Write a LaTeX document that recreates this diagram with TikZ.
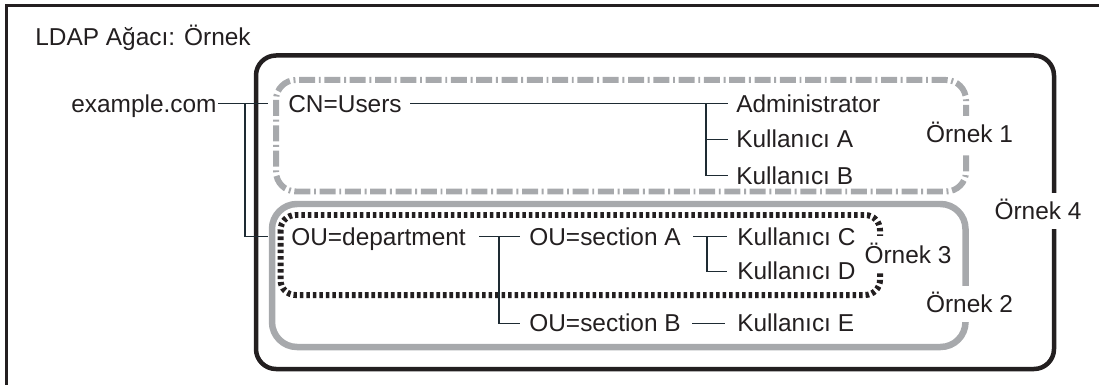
\documentclass[tikz,border=0pt]{standalone}
\usepackage{fontspec}
\setmainfont{Liberation Sans}
\usepackage{xcolor}
\usepackage{tikz}
\usetikzlibrary{positioning,calc}
\definecolor{inkblack}{HTML}{231F20}
\definecolor{boxgray}{HTML}{A7A9AC}
\definecolor{wirenavy}{HTML}{1E2B33}

\begin{document}
\begin{tikzpicture}[
  x=0.02cm, y=-0.02cm,
  every node/.style={font=\fontsize{13.9}{16}\selectfont, text=inkblack},
  txt/.style={inner sep=0pt, text height=0.35cm, text depth=0pt, anchor=west},
  tag/.style={fill=white, inner xsep=1.5pt, inner ysep=0.19cm, text height=0.35cm, text depth=0pt},
  wire/.style={draw=wirenavy, line width=0.7pt},
  grpA/.style={draw=boxgray, line width=0.12cm, rounded corners=0.4cm, dash pattern=on 9.1pt off 2.1pt on 1.1pt off 2.1pt},
  grpB/.style={draw=boxgray, line width=0.13cm, rounded corners=0.5cm},
  grpC/.style={draw=inkblack, line width=0.12cm, rounded corners=0.3cm, dash pattern=on 2pt off 1.7pt},
  grpD/.style={draw=inkblack, line width=0.09cm, rounded corners=0.4cm}
]
\useasboundingbox (0,0) rectangle (1099,385);
\draw[inkblack, line width=0.06cm] (6.5,385) |- (1099,5.5);

% group boxes
\draw[grpD] (256,55.5) rectangle (1054,369);
\draw[grpA] (276,80) rectangle (966,191.5);
\draw[grpB] (272,204) rectangle (965.5,347);
\draw[grpC] (280.5,215) rectangle (880,295);

\node[txt] (title) at (35,36.5) {LDAP Ağacı: Örnek};

% entries
\node[txt] (ex) at (71,103.5) {example.com};
\node[txt] (cn) at (288,103.5) {CN=Users};
\node[txt] (adm) at (736,103.5) {Administrator};
\node[txt] (ka) [below=3.5mm of adm.south west, anchor=north west] {Kullanıcı A};
\node[txt] (kb) [below=3.6mm of ka.south west, anchor=north west] {Kullanıcı B};

\node[txt] (oudep) at (291,236.5) {OU=department};
\node[txt] (seca) at (529,236.5) {OU=section A};
\node[txt] (kc) at (737,236.5) {Kullanıcı C};
\node[txt] (kd) [below=3.3mm of kc.south west, anchor=north west] {Kullanıcı D};
\node[txt] (secb) [below=13.7mm of seca.south west, anchor=north west] {OU=section B};
\node[txt] (ke) at (secb.west -| kc.west) {Kullanıcı E};

% connectors
\coordinate (j0) at (245,103.5);
\draw[wire] (ex.east) ++(1.5,0) -- ($(cn.west)+(-20,0)$);
\draw[wire] (j0) |- ($(oudep.west)+(-23,0)$);

\coordinate (j1) at ($(adm.west)+(-30,0)$);
\draw[wire] (cn.east) ++(8,0) -- ($(adm.west)+(-8,0)$);
\draw[wire] (j1) |- ($(kb.west)+(-8,0)$);
\draw[wire] (j1 |- ka.west) -- ($(ka.west)+(-8,0)$);

\coordinate (j2) at ($(seca.west)+(-30,0)$);
\draw[wire] (oudep.east) ++(13,0) -- ($(seca.west)+(-9,0)$);
\draw[wire] (j2) |- ($(secb.west)+(-9,0)$);

\coordinate (j3) at ($(kc.west)+(-30,0)$);
\draw[wire] (seca.east) ++(12,0) -- ($(kc.west)+(-10,0)$);
\draw[wire] (j3) |- ($(kd.west)+(-10,0)$);
\draw[wire] (secb.east) ++(11,0) -- ($(ke.west)+(-12,0)$);

% group labels
\node[tag] (o1) at (969.5,134) {Örnek 1};
\node[tag] (o4) at (1038,211) {Örnek 4};
\node[tag] (o2) at (969.5,304) {Örnek 2};
\node[tag] (o3) at (908,254.5) {Örnek 3};
\end{tikzpicture}
\end{document}
